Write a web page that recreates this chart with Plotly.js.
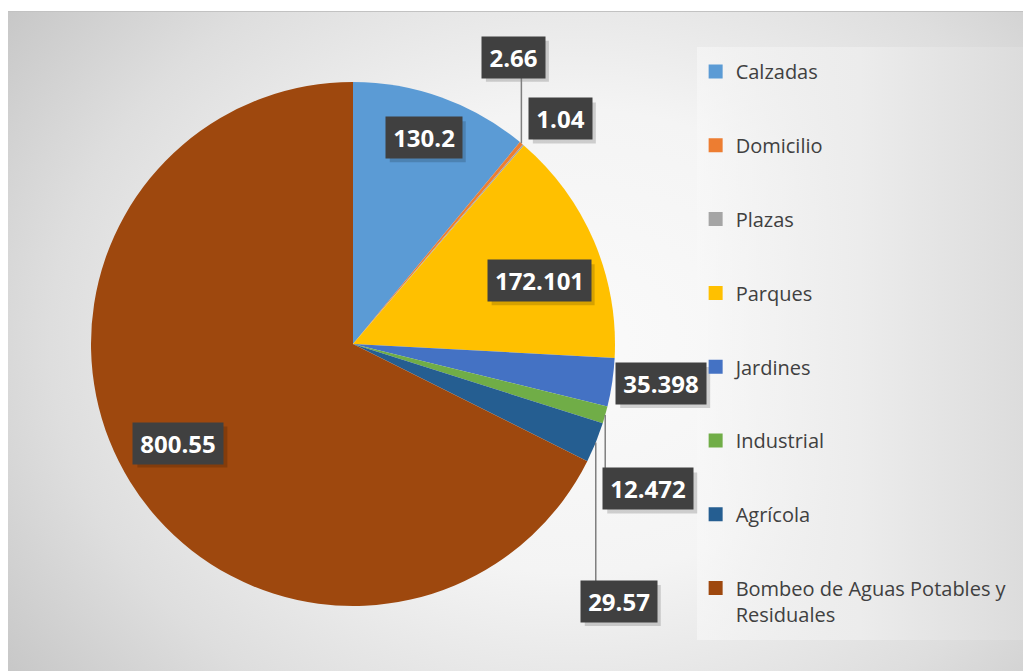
<!DOCTYPE html>
<html>
<head>
<meta charset="utf-8">
<script src="https://cdn.plot.ly/plotly-3.0.1.min.js"></script>
<style>
  html, body { margin: 0; padding: 0; background: #ffffff; }
  #wrap { position: relative; width: 1023px; height: 671px; overflow: hidden; }
  #bg { position: absolute; left: 8px; top: 11px; right: 0; bottom: 0;
        border-top: 1px solid #c2c2c2;
        background: radial-gradient(ellipse 72% 88% at 56% 50%, #fafafa 0%, #f4f4f4 40%, #dedede 72%, #c4c4c4 100%); }
  #legbg { position: absolute; left: 697px; top: 47px; width: 326px; height: 593px;
        background: linear-gradient(to right, rgba(248,248,248,0.6) 0%, #ececec 50%, #dcdcdc 100%); }
  #chart { position: absolute; left: 0; top: 0; width: 1023px; height: 671px; }
</style>
</head>
<body>
<div id="wrap">
  <div id="bg"></div>
  <div id="legbg"></div>
  <div id="chart"></div>
</div>
<script>
// ---- data ----
const categories = ['Calzadas', 'Domicilio', 'Plazas', 'Parques', 'Jardines', 'Industrial', 'Agrícola', 'Bombeo de Aguas Potables y Residuales'];
const values = [130.2, 2.66, 1.04, 172.101, 35.398, 12.472, 29.57, 800.55];
const valueLabels = ['130.2', '2.66', '1.04', '172.101', '35.398', '12.472', '29.57', '800.55'];
const legendLabels = ['Calzadas', 'Domicilio', 'Plazas', 'Parques', 'Jardines', 'Industrial', 'Agrícola', 'Bombeo de Aguas Potables y<br>Residuales'];
const colors = ['#5B9BD5', '#ED7D31', '#A5A5A5', '#FFC000', '#4472C4', '#70AD47', '#255E91', '#9E480E'];

// ---- layout geometry (pixels) ----
const W = 1023, H = 671;
const PIE_CX = 353, PIE_CY = 344, PIE_R = 262;
// label placement: fraction of radius along slice mid-angle, then pixel shift; leader = vertical line to rim
const placement = [
  {f: 0.82, dx: -2, dy: -4,  leader: false},
  {f: 1.00, dx: -8, dy: -86, leader: true},
  {f: 1.00, dx: 37, dy: -26, leader: false},
  {f: 0.76, dx: 3,  dy: 15,  leader: false},
  {f: 1.00, dx: 49, dy: 1,   leader: false},
  {f: 1.00, dx: 43, dy: 74,  leader: true},
  {f: 1.00, dx: 23, dy: 159, leader: true},
  {f: 0.77, dx: -3, dy: -7,  leader: false}
];

const total = values.reduce((a, b) => a + b, 0);
let cum = 0;
const mids = values.map(v => { const m = (cum + v / 2) / total * 360; cum += v; return m; });

function px2paper(x, y) { return [x / W, 1 - y / H]; }

const annotations = [];
const shapes = [];
const BOX_H = 41, PAD = 5;
valueLabels.forEach((txt, i) => {
  const p = placement[i];
  const a = mids[i] * Math.PI / 180;
  const rx = PIE_CX + PIE_R * p.f * Math.sin(a);
  const ry = PIE_CY - PIE_R * p.f * Math.cos(a);
  const lx = rx + p.dx, ly = ry + p.dy;
  const nd = txt.replace('.', '').length;
  const w = Math.round(13.3 * nd + 13);
  const [ax, ay] = px2paper(lx, ly);
  // drop shadow behind the label box
  const bw = w + 2 * PAD, bh = BOX_H;
  const [s0x, s0y] = px2paper(lx - bw / 2 + 4, ly + bh / 2 + 4);
  const [s1x, s1y] = px2paper(lx + bw / 2 + 4, ly - bh / 2 + 4);
  shapes.push({type: 'rect', xref: 'paper', yref: 'paper', x0: s0x, y0: s0y, x1: s1x, y1: s1y,
    fillcolor: 'rgba(0,0,0,0.16)', line: {width: 0}, layer: 'above'});
  annotations.push({
    x: ax, y: ay, xref: 'paper', yref: 'paper', showarrow: false,
    xanchor: 'center', yanchor: 'middle',
    text: '<b>' + txt + '</b>', width: w, height: BOX_H - 2 * PAD, borderpad: PAD,
    bgcolor: '#404040', font: {family: 'Open Sans', size: 24, color: '#ffffff'}
  });
  if (p.leader) {
    const edgeY = ly + (ry > ly ? BOX_H / 2 : -BOX_H / 2);
    const [x0, y0] = px2paper(rx, ry);
    const [x1, y1] = px2paper(rx, edgeY);
    shapes.push({type: 'line', xref: 'paper', yref: 'paper', x0: x0, y0: y0, x1: x0, y1: y1,
      line: {color: '#7f7f7f', width: 1.5}, layer: 'above'});
  }
});

const traces = [{
  type: 'pie',
  labels: categories,
  values: values,
  sort: false,
  direction: 'clockwise',
  rotation: 0,
  marker: {colors: colors, line: {width: 0}},
  textinfo: 'none',
  showlegend: false,
  domain: {
    x: [(PIE_CX - PIE_R) / W, (PIE_CX + PIE_R) / W],
    y: [1 - (PIE_CY + PIE_R) / H, 1 - (PIE_CY - PIE_R) / H]
  }
}];

// legend entries (one per category)
categories.forEach((c, i) => {
  traces.push({
    type: 'scatter', mode: 'markers', x: [null], y: [null],
    name: legendLabels[i], legendgroup: 'g' + i,
    marker: {symbol: 'square', size: 14, color: colors[i], line: {width: 0}},
    hoverinfo: 'skip'
  });
});

const layout = {
  width: W, height: H,
  margin: {l: 0, r: 0, t: 0, b: 0},
  paper_bgcolor: 'rgba(0,0,0,0)',
  plot_bgcolor: 'rgba(0,0,0,0)',
  xaxis: {visible: false}, yaxis: {visible: false},
  showlegend: true,
  legend: {
    x: 0.680, y: 0.9225, xanchor: 'left', yanchor: 'top',
    bgcolor: 'rgba(0,0,0,0)', borderwidth: 0,
    font: {family: 'Open Sans', size: 20, color: '#404040'},
    tracegroupgap: 44.8, itemsizing: 'trace', valign: 'top',
    traceorder: 'grouped'
  },
  annotations: annotations,
  shapes: shapes
};

Plotly.newPlot('chart', traces, layout, {displayModeBar: false, staticPlot: true});
</script>
</body>
</html>
